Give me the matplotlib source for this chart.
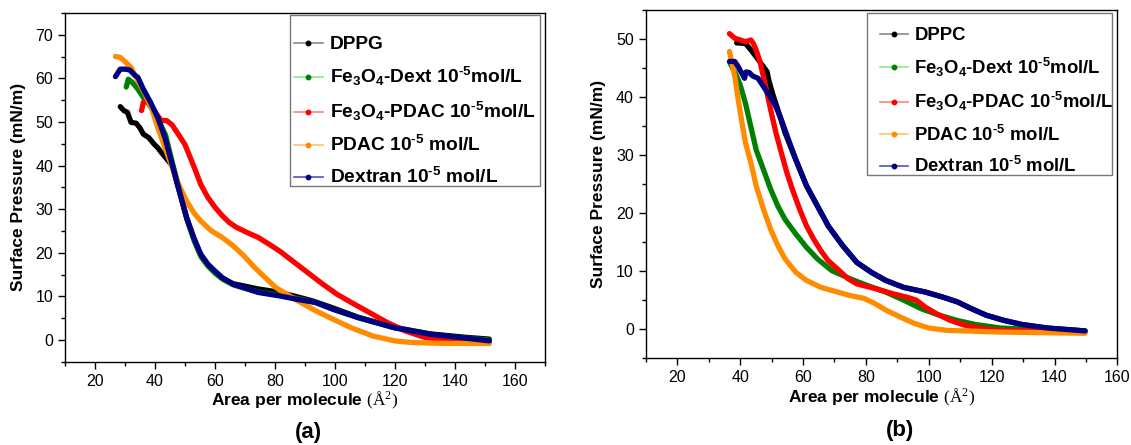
import matplotlib
matplotlib.use("Agg")
import matplotlib.pyplot as plt
from matplotlib.lines import Line2D
from matplotlib.patches import Rectangle
from matplotlib.ticker import MultipleLocator

plt.rcParams['font.family'] = ['Liberation Sans', 'DejaVu Sans']
plt.rcParams['mathtext.fontset'] = 'custom'
plt.rcParams['mathtext.rm'] = 'Liberation Serif'
plt.rcParams['mathtext.default'] = 'regular'

# ---- panel (a): DPPG isotherms ----
a_dppg_x = [28.4, 29.6, 30.8, 32.0, 33.7, 34.9, 36.1, 37.9, 39.7, 40.9, 42.1, 43.3, 45.7, 48.1,
            50.5, 52.9, 55.2, 57.6, 60.0, 62.4, 66.0, 69.6, 74.4, 79.1, 86.3, 92.3, 98.3, 107.8,
            119.8, 131.7, 143.7, 151.4]
a_dppg_y = [53.5, 52.6, 52.2, 49.9, 49.7, 48.7, 47.2, 46.4, 44.9, 44.1, 43.0, 42.0, 40.0, 34.0,
            28.0, 23.3, 19.5, 17.2, 15.6, 14.2, 12.9, 12.4, 11.7, 11.2, 10.1, 9.0, 7.6, 5.2,
            2.9, 1.4, 0.6, 0.2]

a_dext_x = [30.4, 31.1, 32.5, 34.3, 36.1, 37.9, 40.0, 43.5, 46.0, 48.4, 50.8, 53.1, 55.4, 57.8,
            60.2, 62.6, 66.2, 69.6, 74.4, 81.5, 87.5, 93.5, 99.5, 107.8, 119.8, 131.7, 143.7, 151.4]
a_dext_y = [58.0, 59.8, 59.0, 57.5, 55.6, 54.1, 52.0, 47.0, 40.0, 33.6, 27.3, 22.6, 19.0, 16.8,
            15.2, 13.9, 12.6, 11.9, 11.0, 10.3, 9.5, 8.6, 7.0, 5.1, 2.8, 1.2, 0.4, 0.0]

a_fepdac_x = [35.5, 36.1, 37.3, 39.1, 40.9, 42.1, 43.9, 45.7, 48.1, 49.9, 51.7, 53.5, 55.2, 57.6,
              60.0, 62.4, 64.8, 67.2, 70.8, 74.4, 77.9, 81.5, 85.1, 88.7, 92.3, 95.9, 100.6,
              105.4, 111.4, 117.4, 123.3, 129.3, 135.3, 143.7, 151.4]
a_fepdac_y = [52.6, 54.5, 54.9, 53.3, 51.4, 50.3, 50.3, 49.3, 46.8, 44.9, 41.9, 38.8, 35.7, 32.7,
              30.4, 28.5, 26.9, 25.8, 24.6, 23.5, 22.0, 20.4, 18.5, 16.6, 14.7, 12.8, 10.5,
              8.6, 6.3, 4.0, 2.1, 0.7, -0.1, -0.4, -0.4]

a_pdac_x = [26.8, 28.4, 30.2, 32.0, 34.3, 36.7, 39.1, 40.9, 43.3, 45.7, 48.1, 50.5, 52.9, 55.2,
            58.8, 62.4, 66.0, 69.6, 73.2, 76.7, 80.3, 83.9, 87.5, 93.5, 99.5, 105.4, 112.6,
            119.8, 125.7, 137.7, 151.4]
a_pdac_y = [65.0, 64.8, 63.7, 62.5, 59.4, 56.4, 52.6, 48.7, 44.1, 39.6, 35.3, 31.9, 29.2, 27.3,
            25.0, 23.5, 21.6, 19.3, 16.6, 14.3, 12.0, 10.5, 9.0, 6.7, 4.7, 2.8, 0.9,
            -0.2, -0.6, -0.8, -0.8]

a_dextran_x = [26.8, 28.4, 30.2, 31.6, 33.1, 34.3, 36.1, 38.5, 40.9, 43.3, 45.7, 48.1, 50.5, 52.9,
               55.2, 57.6, 60.0, 62.4, 66.0, 69.6, 74.4, 81.5, 87.5, 93.5, 99.5, 107.8, 119.8,
               131.7, 143.7, 151.4]
a_dextran_y = [60.4, 62.1, 62.1, 61.9, 60.8, 60.2, 57.5, 54.5, 51.0, 46.4, 40.3, 34.2, 28.1, 23.5,
               19.7, 17.4, 15.8, 14.3, 12.8, 12.0, 10.9, 10.1, 9.3, 8.6, 7.0, 5.1, 2.8,
               1.3, 0.4, -0.2]

# ---- panel (b): DPPC isotherms ----
b_dppc_x = [38.9, 41.7, 43.4, 45.1, 47.4, 48.6, 49.1, 50.3, 52.0, 54.3, 57.7, 61.1, 64.6, 68.0,
            72.6, 77.1, 81.7, 86.3, 92.0, 98.9, 104.6, 109.1, 113.7, 118.3, 124.0, 129.7, 137.7,
            149.7]
b_dppc_y = [49.3, 49.2, 48.1, 46.9, 45.2, 44.3, 42.9, 40.6, 37.8, 33.8, 29.2, 24.7, 21.2, 17.8,
            14.4, 11.5, 9.8, 8.4, 7.2, 6.4, 5.5, 4.7, 3.5, 2.4, 1.5, 0.8, 0.2, -0.3]

b_dext_x = [36.8, 38.3, 40.0, 41.7, 43.4, 45.1, 47.4, 49.7, 52.0, 54.3, 57.7, 61.1, 64.6, 69.1,
            74.9, 80.6, 86.3, 92.0, 97.7, 103.4, 109.1, 114.9, 122.9, 134.3, 149.7]
b_dext_y = [45.8, 44.3, 42.1, 38.9, 34.9, 30.9, 27.5, 24.1, 21.2, 18.9, 16.4, 14.1, 12.1, 10.1,
            8.7, 7.5, 6.4, 5.0, 3.5, 2.4, 1.5, 0.8, 0.2, -0.1, -0.3]

b_fepdac_x = [36.6, 38.3, 40.0, 41.7, 43.4, 44.2, 45.1, 46.3, 47.4, 48.6, 49.7, 51.4, 53.1, 54.9,
              56.6, 58.9, 61.1, 63.4, 65.7, 68.0, 70.9, 74.3, 77.1, 82.9, 88.6, 93.1, 96.0,
              98.9, 102.3, 106.9, 111.4, 117.1, 122.9, 134.3, 149.7]
b_fepdac_y = [50.9, 50.1, 49.8, 49.5, 49.8, 49.2, 48.1, 46.1, 43.5, 40.6, 37.8, 33.8, 30.4, 26.9,
              24.1, 20.7, 17.8, 15.5, 13.5, 11.8, 10.4, 8.7, 7.8, 7.0, 6.1, 5.5, 5.0,
              3.8, 2.7, 1.5, 0.7, 0.1, -0.2, -0.3, -0.5]

b_pdac_x = [36.6, 37.1, 38.3, 39.4, 40.6, 41.7, 43.4, 45.1, 47.4, 49.7, 52.0, 54.3, 57.7, 61.1,
            65.7, 70.3, 74.9, 79.4, 82.9, 86.3, 90.9, 95.4, 100.0, 105.7, 111.4, 122.9, 149.7]
b_pdac_y = [47.8, 46.6, 43.5, 39.5, 35.5, 32.1, 28.7, 24.7, 20.7, 17.2, 14.4, 12.1, 9.8, 8.4,
            7.2, 6.5, 5.8, 5.3, 4.4, 3.3, 2.1, 1.0, 0.2, -0.2, -0.3, -0.5, -0.7]

b_dextran_x = [36.6, 38.3, 39.4, 40.3, 41.4, 41.9, 42.9, 44.0, 45.7, 47.4, 49.1, 50.9, 53.1, 55.4,
               57.7, 61.1, 64.6, 68.0, 72.6, 77.1, 81.7, 86.3, 92.0, 98.9, 104.6, 109.1, 113.7,
               118.3, 124.0, 129.7, 137.7, 149.7]
b_dextran_y = [46.1, 46.1, 45.2, 44.3, 43.2, 44.3, 44.2, 43.6, 43.2, 41.8, 40.4, 38.9, 36.1, 32.6,
               29.2, 24.7, 21.2, 17.8, 14.4, 11.5, 9.8, 8.4, 7.2, 6.4, 5.5, 4.7, 3.5,
               2.4, 1.5, 0.8, 0.2, -0.3]

colors = ['black', '#008000', '#ff0000', '#ff8c00', '#000080']
light_colors = ['#8a8a8a', '#80f080', '#ff8080', '#ffc070', '#5050c0']
HY = '\u2010'
labels_a = ['DPPG',
            'Fe$_3$O$_4$-Dext 10$^{' + HY + '5}$mol/L',
            'Fe$_3$O$_4$-PDAC 10$^{' + HY + '5}$mol/L',
            'PDAC 10$^{' + HY + '5}$ mol/L',
            'Dextran 10$^{' + HY + '5}$ mol/L']
labels_b = ['DPPC'] + labels_a[1:]

series_a = [(a_dppg_x, a_dppg_y), (a_dext_x, a_dext_y), (a_fepdac_x, a_fepdac_y),
            (a_pdac_x, a_pdac_y), (a_dextran_x, a_dextran_y)]
series_b = [(b_dppc_x, b_dppc_y), (b_dext_x, b_dext_y), (b_fepdac_x, b_fepdac_y),
            (b_pdac_x, b_pdac_y), (b_dextran_x, b_dextran_y)]

fig = plt.figure(figsize=(11.31, 4.45), dpi=100)
ax1 = fig.add_axes([0.0575, 0.187, 0.4245, 0.784])
ax2 = fig.add_axes([0.571, 0.195, 0.417, 0.783])


def draw(ax, series, labels, xmax, ylim, box, hx, hy, legsize):
    order = [0, 1, 3, 2, 4]
    for i in order:
        x, y = series[i]
        ax.plot(x, y, color=colors[i], lw=3.8, solid_capstyle='round',
                solid_joinstyle='round', zorder=2 + i)
    ax.set_xlim(10, xmax)
    ax.set_ylim(*ylim)
    ax.xaxis.set_major_locator(MultipleLocator(20))
    ax.xaxis.set_minor_locator(MultipleLocator(10))
    ax.yaxis.set_major_locator(MultipleLocator(10))
    ax.yaxis.set_minor_locator(MultipleLocator(5))
    ax.tick_params(which='major', direction='out', length=5, width=1, labelsize=11.5)
    ax.tick_params(which='minor', direction='out', length=3, width=1)
    for s in ax.spines.values():
        s.set_linewidth(1)
    ax.set_xlabel(r'Area per molecule $\mathrm{(\AA^{2})}$', fontsize=12.5,
                  fontweight='bold', labelpad=1)
    ax.set_ylabel('Surface Pressure (mN/m)', fontsize=12.5, fontweight='bold', labelpad=7)

    # legend frame drawn separately (entries sit low inside the box)
    x0, y0, x1, y1 = box
    ax.add_patch(Rectangle((x0, y0), x1 - x0, y1 - y0, transform=ax.transAxes,
                           fill=True, facecolor='white', edgecolor='#777777',
                           lw=1, zorder=20))
    handles = [Line2D([], [], color=lc, lw=1.2, marker='o', ms=3.2,
                      markerfacecolor=c, markeredgecolor=c)
               for c, lc in zip(colors, light_colors)]
    leg = ax.legend(handles, labels, loc='center left', bbox_to_anchor=(hx, hy),
                    borderaxespad=0, borderpad=0, frameon=False,
                    prop={'weight': 'bold', 'size': legsize}, handlelength=1.5,
                    handletextpad=0.35, labelspacing=0.62)
    leg.set_zorder(21)


draw(ax1, series_a, labels_a, 170, (-5, 75), (0.469, 0.503, 0.990, 0.994), 0.477, 0.717, 13.8)
draw(ax2, series_b, labels_b, 160, (-5, 55), (0.469, 0.526, 0.989, 0.991), 0.497, 0.736, 13.3)

fig.text(0.273, 0.027, '(a)', fontsize=16, fontweight='bold', ha='center', va='center')
fig.text(0.796, 0.032, '(b)', fontsize=16, fontweight='bold', ha='center', va='center')

fig.savefig('out.png', dpi=100)
